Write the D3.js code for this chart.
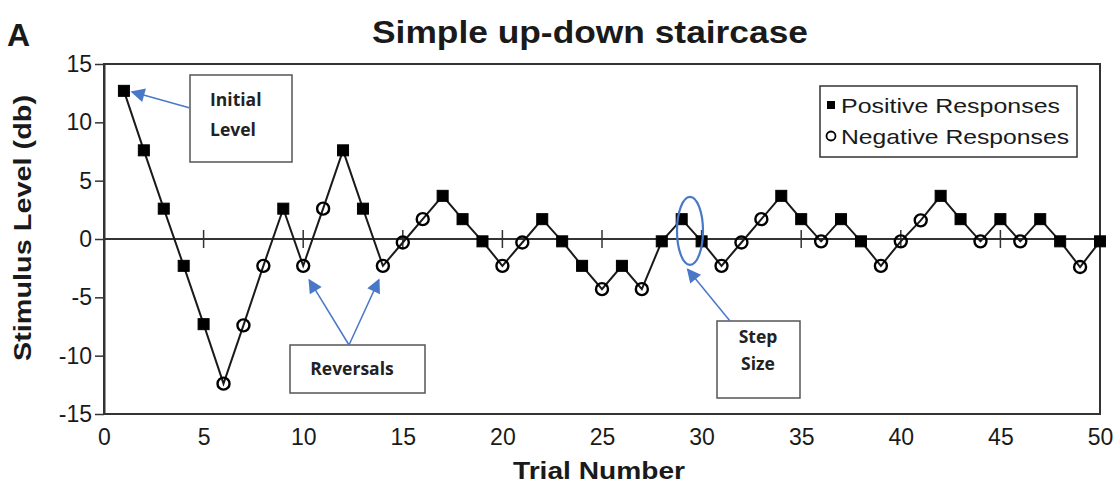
<!DOCTYPE html>
<html>
<head>
<meta charset="utf-8">
<script src="https://cdn.jsdelivr.net/npm/d3@7/dist/d3.min.js"></script>
<style>
  html, body { margin: 0; padding: 0; background: #fff; }
  svg { display: block; }
  text { font-family: "Liberation Sans", Arial, sans-serif; fill: #1a1a1a; }
  .note { font-family: "Open Sans", "Lato", sans-serif; font-weight: 700; font-size: 17.5px; fill: #222; }
</style>
</head>
<body>
<svg id="chart" width="1120" height="489"></svg>
<script>
// Trial-by-trial stimulus levels of a simple up-down staircase
const trials = [1, 2, 3, 4, 5, 6, 7, 8, 9, 10,
                11, 12, 13, 14, 15, 16, 17, 18, 19, 20,
                21, 22, 23, 24, 25, 26, 27, 28, 29, 30,
                31, 32, 33, 34, 35, 36, 37, 38, 39, 40,
                41, 42, 43, 44, 45, 46, 47, 48, 49, 50];
const levels = [12.7, 7.6, 2.6, -2.3, -7.3, -12.4, -7.4, -2.3, 2.6, -2.3,
                2.6, 7.6, 2.6, -2.3, -0.3, 1.7, 3.7, 1.7, -0.2, -2.3,
                -0.3, 1.7, -0.2, -2.3, -4.3, -2.3, -4.3, -0.2, 1.7, -0.2,
                -2.3, -0.3, 1.7, 3.7, 1.7, -0.2, 1.7, -0.2, -2.3, -0.2,
                1.6, 3.7, 1.7, -0.2, 1.7, -0.2, 1.7, -0.2, -2.4, -0.2];
// P = positive response (filled square), N = negative response (open circle)
const responses = ["P", "P", "P", "P", "P", "N", "N", "N", "P", "N",
                   "N", "P", "P", "N", "N", "N", "P", "P", "P", "N",
                   "N", "P", "P", "P", "N", "P", "N", "P", "P", "P",
                   "N", "N", "N", "P", "P", "N", "P", "P", "N", "N",
                   "N", "P", "P", "N", "P", "N", "P", "P", "N", "P"];
const yTicks = [-15, -10, -5, 0, 5, 10, 15];
const xTicks = [0, 5, 10, 15, 20, 25, 30, 35, 40, 45, 50];
const zeroLineTicks = [5, 10, 15, 20, 25, 30, 35, 40, 45];
const legendItems = [
  { key: "P", label: "Positive Responses", len: 219 },
  { key: "N", label: "Negative Responses", len: 228 }
];

const svg = d3.select("#chart");
const plotLeft = 104, plotRight = 1100, plotTop = 64, plotBottom = 414;
const x = d3.scaleLinear().domain([0, 50]).range([plotLeft, plotRight]);
const y = d3.scaleLinear().domain([-15, 15]).range([plotBottom, plotTop]);
const data = trials.map((t, i) => ({ t, v: levels[i], r: responses[i] }));
const annoBlue = "#4a78c8";
const plain = d => String(d);

// arrowhead marker for the callouts
svg.append("defs").append("marker")
  .attr("id", "arrow").attr("viewBox", "0 0 10 10")
  .attr("refX", 9).attr("refY", 5)
  .attr("markerWidth", 16).attr("markerHeight", 14)
  .attr("markerUnits", "userSpaceOnUse")
  .attr("orient", "auto")
  .append("path").attr("d", "M0,0 L10,5 L0,10 z").attr("fill", annoBlue);

// plot frame
svg.append("rect")
  .attr("x", plotLeft).attr("y", plotTop)
  .attr("width", plotRight - plotLeft).attr("height", plotBottom - plotTop)
  .attr("fill", "none").attr("stroke", "#333").attr("stroke-width", 2);

// y axis
const yAxis = svg.append("g")
  .attr("transform", `translate(${plotLeft},0)`)
  .call(d3.axisLeft(y).tickValues(yTicks).tickFormat(plain)
    .tickSize(9).tickSizeOuter(0).tickPadding(3));
yAxis.select(".domain").attr("stroke", "#333").attr("stroke-width", 2);
yAxis.selectAll(".tick line").attr("stroke", "#333").attr("stroke-width", 1.5);
yAxis.selectAll(".tick text").attr("font-size", 23).attr("fill", "#1a1a1a")
  .style("font-family", "'Liberation Sans', Arial, sans-serif");

// x axis labels
const xAxis = svg.append("g")
  .attr("transform", `translate(0,${plotBottom})`)
  .call(d3.axisBottom(x).tickValues(xTicks).tickFormat(plain).tickSize(0).tickPadding(15));
xAxis.select(".domain").remove();
xAxis.selectAll(".tick text").attr("font-size", 23).attr("fill", "#1a1a1a")
  .style("font-family", "'Liberation Sans', Arial, sans-serif");

// zero reference line with small cross ticks
svg.append("line")
  .attr("x1", x(0)).attr("x2", x(50))
  .attr("y1", y(0)).attr("y2", y(0))
  .attr("stroke", "#333").attr("stroke-width", 1.8);
svg.append("g").selectAll("line").data(zeroLineTicks).join("line")
  .attr("x1", d => x(d)).attr("x2", d => x(d))
  .attr("y1", y(0) - 9).attr("y2", y(0) + 9)
  .attr("stroke", "#333").attr("stroke-width", 1.5);

// staircase track
svg.append("path")
  .datum(data)
  .attr("fill", "none").attr("stroke", "#1a1a1a").attr("stroke-width", 2)
  .attr("d", d3.line().x(d => x(d.t)).y(d => y(d.v)));

// markers
const sq = 11;
svg.append("g").selectAll("rect").data(data.filter(d => d.r === "P")).join("rect")
  .attr("x", d => x(d.t) - sq / 2).attr("y", d => y(d.v) - sq / 2)
  .attr("width", sq).attr("height", sq)
  .attr("fill", "#000").attr("stroke", "#000").attr("stroke-width", 1);
svg.append("g").selectAll("circle").data(data.filter(d => d.r === "N")).join("circle")
  .attr("cx", d => x(d.t)).attr("cy", d => y(d.v)).attr("r", 6)
  .attr("fill", "none").attr("stroke", "#000").attr("stroke-width", 2.4);

// titles
svg.append("text").attr("x", 7).attr("y", 46)
  .attr("font-size", 32).attr("font-weight", 700).text("A");
svg.append("text").attr("x", 590).attr("y", 43).attr("text-anchor", "middle")
  .attr("font-size", 31).attr("font-weight", 700)
  .attr("textLength", 436).attr("lengthAdjust", "spacingAndGlyphs")
  .text("Simple up-down staircase");
svg.append("text").attr("x", 599).attr("y", 479).attr("text-anchor", "middle")
  .attr("font-size", 24).attr("font-weight", 700)
  .attr("textLength", 172).attr("lengthAdjust", "spacingAndGlyphs")
  .text("Trial Number");
svg.append("text")
  .attr("transform", `translate(31,228) rotate(-90)`)
  .attr("text-anchor", "middle")
  .attr("font-size", 23).attr("font-weight", 700)
  .attr("textLength", 266).attr("lengthAdjust", "spacingAndGlyphs")
  .text("Stimulus Level (db)");

// legend
const lg = svg.append("g").attr("transform", "translate(820,86)");
lg.append("rect").attr("width", 257).attr("height", 71)
  .attr("fill", "#fff").attr("stroke", "#333").attr("stroke-width", 1.5);
const li = lg.selectAll("g.item").data(legendItems).join("g")
  .attr("class", "item")
  .attr("transform", (d, i) => `translate(0,${19 + i * 31})`);
li.filter(d => d.key === "P").append("rect")
  .attr("x", 7).attr("y", -4).attr("width", 8).attr("height", 8).attr("fill", "#000");
li.filter(d => d.key === "N").append("circle")
  .attr("cx", 11).attr("cy", 0).attr("r", 4.5)
  .attr("fill", "none").attr("stroke", "#000").attr("stroke-width", 1.8);
li.append("text").attr("x", 21).attr("y", 7.5)
  .attr("font-size", 21).attr("fill", "#222")
  .attr("textLength", d => d.len).attr("lengthAdjust", "spacingAndGlyphs")
  .text(d => d.label);

// callout boxes
function callout(bx, by, bw, bh, lines, lineY, anchorX, anchor) {
  svg.append("rect").attr("x", bx).attr("y", by).attr("width", bw).attr("height", bh)
    .attr("fill", "#fff").attr("stroke", "#555").attr("stroke-width", 1.5);
  lines.forEach((s, i) => {
    svg.append("text").attr("class", "note")
      .attr("x", bx + anchorX).attr("y", by + lineY[i]).attr("text-anchor", anchor).text(s);
  });
}
function arrow(x1, y1, x2, y2) {
  svg.append("line").attr("x1", x1).attr("y1", y1).attr("x2", x2).attr("y2", y2)
    .attr("stroke", annoBlue).attr("stroke-width", 1.5).attr("marker-end", "url(#arrow)");
}

callout(190, 75, 102, 87, ["Initial", "Level"], [31, 61], 20, "start");
arrow(190, 108, x(1) + 8, y(levels[0]) + 1);

callout(290, 345, 135, 48, ["Reversals"], [30], 62, "middle");
arrow(349, 345, x(10) + 6, y(levels[9]) + 14);
arrow(349, 345, x(14) - 4, y(levels[13]) + 14);

callout(717, 321, 83, 77, ["Step", "Size"], [22, 49], 41, "middle");
svg.append("ellipse")
  .attr("cx", 690).attr("cy", y(0.7))
  .attr("rx", 13).attr("ry", 34)
  .attr("fill", "none").attr("stroke", annoBlue).attr("stroke-width", 2.2);
arrow(730, 321, x(29.3), y(levels[29]) + 28);
</script>
</body>
</html>
